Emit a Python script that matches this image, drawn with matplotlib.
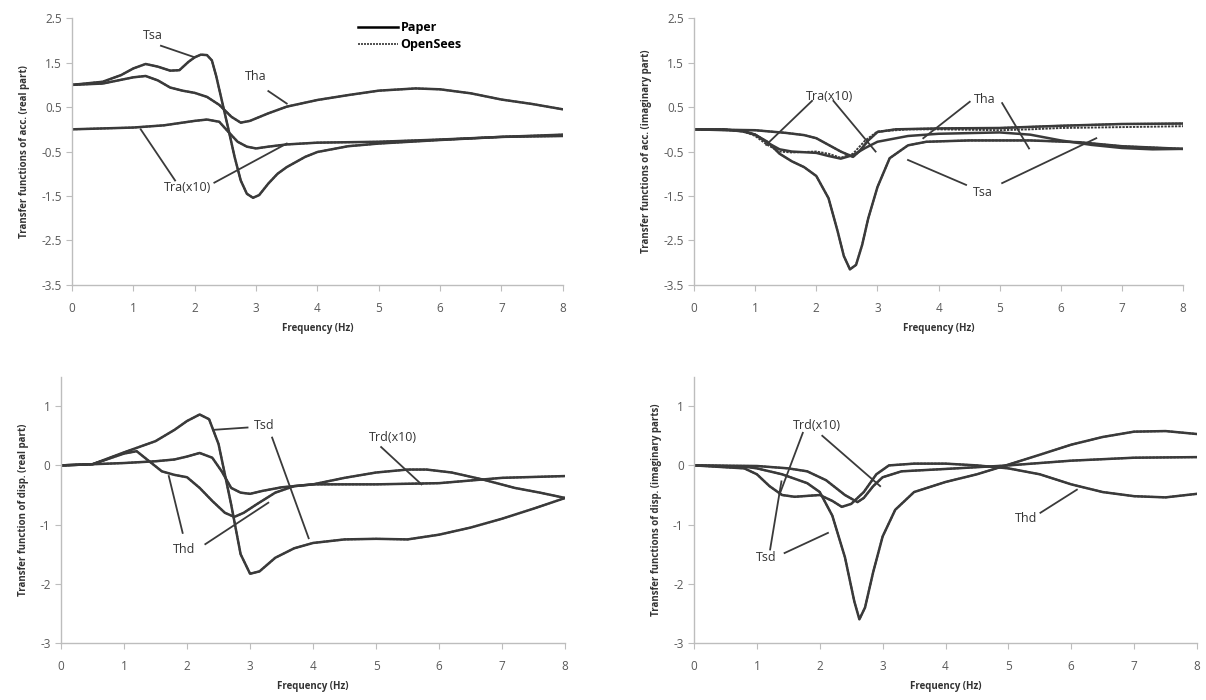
import numpy as np
import matplotlib.pyplot as plt

plt.rcParams['font.family'] = ['Open Sans', 'DejaVu Sans']

# ---- data ----
# acceleration, real part
f_tsa_r = [0, 0.5, 0.8, 1.0, 1.2, 1.4, 1.6, 1.75, 1.9, 2.0, 2.1, 2.2, 2.28, 2.35, 2.45, 2.55, 2.65, 2.75, 2.85, 2.95, 3.05, 3.2, 3.35, 3.5, 3.8, 4.0, 4.5, 5.0, 6.0, 7.0, 8.0]
tsa_r = [1.0, 1.07, 1.22, 1.37, 1.47, 1.41, 1.32, 1.33, 1.52, 1.62, 1.68, 1.67, 1.55, 1.2, 0.6, 0.0, -0.62, -1.15, -1.45, -1.54, -1.48, -1.22, -1.0, -0.85, -0.62, -0.51, -0.38, -0.32, -0.24, -0.17, -0.12]
f_tha_r = [0, 0.5, 1.0, 1.2, 1.4, 1.6, 1.8, 2.0, 2.2, 2.4, 2.6, 2.75, 2.9, 3.2, 3.5, 4.0, 4.5, 5.0, 5.6, 6.0, 6.5, 7.0, 7.5, 8.0]
tha_r = [1.0, 1.03, 1.17, 1.2, 1.1, 0.94, 0.87, 0.82, 0.73, 0.55, 0.28, 0.15, 0.19, 0.36, 0.51, 0.66, 0.77, 0.87, 0.92, 0.9, 0.81, 0.67, 0.57, 0.45]
f_tra_r = [0, 1.0, 1.5, 2.0, 2.2, 2.4, 2.55, 2.7, 2.85, 3.0, 3.2, 3.5, 4.0, 5.0, 6.0, 7.0, 8.0]
tra_r = [0.0, 0.04, 0.09, 0.19, 0.22, 0.17, -0.06, -0.28, -0.39, -0.43, -0.39, -0.34, -0.3, -0.28, -0.23, -0.17, -0.15]

# acceleration, imaginary part
f_tsa_i = [0, 0.5, 0.8, 1.0, 1.2, 1.4, 1.6, 1.8, 2.0, 2.2, 2.35, 2.45, 2.55, 2.65, 2.75, 2.85, 3.0, 3.2, 3.5, 3.8, 4.5, 5.5, 6.3, 7.0, 8.0]
tsa_i = [0, 0, -0.05, -0.12, -0.28, -0.55, -0.72, -0.85, -1.05, -1.55, -2.3, -2.85, -3.15, -3.05, -2.6, -2.0, -1.3, -0.65, -0.36, -0.28, -0.25, -0.25, -0.29, -0.38, -0.44]
f_tha_i = [0, 0.8, 1.0, 1.2, 1.4, 1.6, 2.0, 2.2, 2.4, 2.6, 2.8, 3.0, 3.5, 4.0, 5.0, 5.5, 6.0, 6.5, 7.0, 7.5, 8.0]
tha_i = [0, -0.03, -0.12, -0.3, -0.45, -0.5, -0.53, -0.6, -0.66, -0.58, -0.42, -0.28, -0.15, -0.1, -0.07, -0.12, -0.25, -0.35, -0.42, -0.45, -0.44]
f_tra_i = [0, 1.0, 1.5, 1.8, 2.0, 2.2, 2.4, 2.6, 2.7, 2.85, 3.0, 3.3, 4.0, 5.0, 6.0, 7.0, 8.0]
tra_i = [0, -0.02, -0.08, -0.13, -0.2, -0.35, -0.5, -0.62, -0.5, -0.25, -0.06, 0.0, 0.02, 0.03, 0.08, 0.12, 0.13]
tha_i_os = [0, -0.03, -0.15, -0.35, -0.5, -0.52, -0.5, -0.55, -0.64, -0.55, -0.25, -0.05, 0.0, 0.0, -0.02, 0.0, 0.03, 0.04, 0.05, 0.06, 0.07]

# displacement, real part
f_tsd_r = [0, 0.5, 1.0, 1.5, 1.8, 2.0, 2.2, 2.35, 2.5, 2.6, 2.7, 2.85, 3.0, 3.15, 3.4, 3.7, 4.0, 4.5, 5.0, 5.5, 6.0, 6.5, 7.0, 7.5, 8.0]
tsd_r = [0, 0.02, 0.22, 0.41, 0.6, 0.75, 0.86, 0.78, 0.36, -0.15, -0.66, -1.5, -1.83, -1.79, -1.56, -1.4, -1.31, -1.25, -1.24, -1.25, -1.17, -1.05, -0.9, -0.73, -0.55]
f_thd_r = [0, 0.5, 1.0, 1.2, 1.4, 1.6, 1.8, 2.0, 2.2, 2.4, 2.6, 2.75, 2.9, 3.1, 3.4, 3.7, 4.0, 4.5, 5.0, 5.5, 5.8, 6.2, 6.7, 7.2, 7.6, 8.0]
thd_r = [0, 0.02, 0.2, 0.24, 0.07, -0.1, -0.16, -0.2, -0.38, -0.6, -0.8, -0.87, -0.8, -0.66, -0.46, -0.35, -0.32, -0.21, -0.12, -0.07, -0.07, -0.12, -0.24, -0.38, -0.46, -0.55]
f_trd_r = [0, 1.0, 1.5, 1.8, 2.0, 2.2, 2.4, 2.55, 2.7, 2.85, 3.0, 3.2, 3.5, 4.0, 5.0, 6.0, 7.0, 8.0]
trd_r = [0, 0.04, 0.07, 0.1, 0.15, 0.21, 0.13, -0.1, -0.38, -0.46, -0.48, -0.43, -0.37, -0.32, -0.32, -0.3, -0.21, -0.18]

# displacement, imaginary part
f_tsd_i = [0, 0.8, 1.0, 1.4, 1.8, 2.0, 2.2, 2.4, 2.55, 2.63, 2.72, 2.85, 3.0, 3.2, 3.5, 4.0, 4.5, 4.9, 5.5, 6.0, 6.5, 7.0, 7.5, 8.0]
tsd_i = [0, -0.02, -0.05, -0.15, -0.3, -0.45, -0.85, -1.55, -2.3, -2.6, -2.4, -1.8, -1.2, -0.75, -0.45, -0.28, -0.15, -0.02, 0.18, 0.35, 0.48, 0.57, 0.58, 0.53]
f_thd_i = [0, 0.8, 1.0, 1.2, 1.4, 1.6, 2.0, 2.2, 2.35, 2.5, 2.7, 2.9, 3.1, 3.5, 4.0, 4.5, 5.0, 5.5, 6.0, 6.5, 7.0, 7.5, 8.0]
thd_i = [0, -0.05, -0.15, -0.35, -0.5, -0.53, -0.5, -0.6, -0.7, -0.65, -0.45, -0.15, 0.0, 0.03, 0.03, 0.0, -0.05, -0.15, -0.32, -0.45, -0.52, -0.54, -0.48]
f_trd_i = [0, 1.0, 1.5, 1.8, 2.1, 2.4, 2.6, 2.7, 2.85, 3.0, 3.3, 4.0, 5.0, 6.0, 7.0, 8.0]
trd_i = [0, -0.01, -0.05, -0.1, -0.25, -0.5, -0.62, -0.55, -0.35, -0.2, -0.1, -0.06, 0.0, 0.08, 0.13, 0.14]

x_ticks = [0, 1, 2, 3, 4, 5, 6, 7, 8]
acc_ticks = [-3.5, -2.5, -1.5, -0.5, 0.5, 1.5, 2.5]
acc_tick_labels = ['-3.5', '-2.5', '-1.5', '-0.5', '0.5', '1.5', '2.5']
disp_ticks = [-3, -2, -1, 0, 1]
disp_tick_labels = ['-3', '-2', '-1', '0', '1']

ylabels = ['Transfer functions of acc. (real part)',
           'Transfer functions of acc. (imaginary part)',
           'Transfer function of disp. (real part)',
           'Transfer functions of disp. (imaginary parts)']

# curves per panel: (freq, paper, opensees)
panels = [
    [(f_tsa_r, tsa_r, tsa_r), (f_tha_r, tha_r, tha_r), (f_tra_r, tra_r, tra_r)],
    [(f_tsa_i, tsa_i, tsa_i), (f_tha_i, tha_i, tha_i_os), (f_tra_i, tra_i, tra_i)],
    [(f_tsd_r, tsd_r, tsd_r), (f_thd_r, thd_r, thd_r), (f_trd_r, trd_r, trd_r)],
    [(f_tsd_i, tsd_i, tsd_i), (f_thd_i, thd_i, thd_i), (f_trd_i, trd_i, trd_i)],
]

# labels: (text, text position, list of leader segments)
notes = [
    [('Tsa', (1.32, 2.12), [((1.45, 1.88), (2.0, 1.62))]),
     ('Tha', (3.0, 1.18), [((3.2, 0.86), (3.5, 0.58))]),
     ('Tra(x10)', (1.88, -1.3), [((1.12, 0.0), (1.68, -1.15)), ((2.32, -1.2), (3.5, -0.32))])],
    [('Tra(x10)', (2.21, 0.74), [((1.93, 0.64), (1.18, -0.35)), ((2.28, 0.64), (2.97, -0.5))]),
     ('Tha', (4.76, 0.68), [((4.51, 0.62), (3.75, -0.2)), ((5.04, 0.59), (5.48, -0.43))]),
     ('Tsa', (4.73, -1.42), [((4.45, -1.25), (3.5, -0.69)), ((5.04, -1.21), (6.58, -0.2))])],
    [('Tsd', (3.23, 0.67), [((2.96, 0.64), (2.41, 0.6))]),
     ('', (3.23, 0.67), [((3.35, 0.47), (3.93, -1.23))]),
     ('Thd', (1.96, -1.42), [((1.93, -1.14), (1.71, -0.18)), ((2.29, -1.33), (3.29, -0.63))]),
     ('Trd(x10)', (5.27, 0.47), [((5.08, 0.31), (5.72, -0.32))])],
    [('Trd(x10)', (1.95, 0.67), [((1.73, 0.55), (1.36, -0.49)), ((2.04, 0.5), (2.96, -0.35))]),
     ('Tsd', (1.15, -1.56), [((1.21, -1.42), (1.39, -0.27)), ((1.44, -1.48), (2.13, -1.14))]),
     ('Thd', (5.29, -0.9), [((5.51, -0.8), (6.09, -0.41))])],
]

# ---- figure ----
fig = plt.figure(figsize=(12.06, 7.0), dpi=100)
rects = [[0.0597, 0.593, 0.407, 0.381],
         [0.5755, 0.593, 0.4055, 0.381],
         [0.0506, 0.0814, 0.418, 0.3806],
         [0.5755, 0.0814, 0.417, 0.3806]]

line_col = '#3a3a3a'
axes = []
for k, r in enumerate(rects):
    ax = fig.add_axes(r)
    axes.append(ax)
    for fr, pap, ops in panels[k]:
        ax.plot(fr, pap, color=line_col, lw=1.8, ls='-', solid_joinstyle='round')
        ax.plot(fr, ops, color=line_col, lw=1.4, ls=(0, (1.2, 0.6)))
    for txt, pos, segs in notes[k]:
        if txt:
            ax.text(pos[0], pos[1], txt, ha='center', va='center', fontsize=9, color='#333333')
        for a, b in segs:
            ax.plot([a[0], b[0]], [a[1], b[1]], color=line_col, lw=1.3)
    ax.set_xlim(0, 8)
    ax.set_xticks(x_ticks)
    if k < 2:
        ax.set_ylim(-3.5, 2.5)
        ax.set_yticks(acc_ticks)
        ax.set_yticklabels(acc_tick_labels)
    else:
        ax.set_ylim(-3, 1.5)
        ax.set_yticks(disp_ticks)
        ax.set_yticklabels(disp_tick_labels)
    for s in ['top', 'right']:
        ax.spines[s].set_visible(False)
    for s in ['left', 'bottom']:
        ax.spines[s].set_color('#bdbdbd')
        ax.spines[s].set_linewidth(1.0)
    ax.tick_params(axis='both', colors='#bdbdbd', labelcolor='#595959', labelsize=8.5, length=4, width=0.8)
    ax.tick_params(axis='x', pad=8)
    ax.set_xlabel('Frequency (Hz)', fontsize=7, fontweight='bold', color='#333333', labelpad=6)
    ax.set_ylabel(ylabels[k], fontsize=7, fontweight='bold', color='#333333', labelpad=8)

# legend in the first panel
axes[0].plot([], [], color='black', lw=1.8, ls='-', label='Paper')
axes[0].plot([], [], color='#333333', lw=1.2, ls=(0, (1.2, 0.6)), label='OpenSees')
h, l = axes[0].get_legend_handles_labels()
axes[0].legend(h, l, loc='upper left', bbox_to_anchor=(0.56, 1.03), frameon=False,
               handlelength=3.2, handletextpad=0.2, labelspacing=0.3,
               prop={'size': 9, 'weight': 'bold'})

fig.savefig('out.png', dpi=100, facecolor='white')
